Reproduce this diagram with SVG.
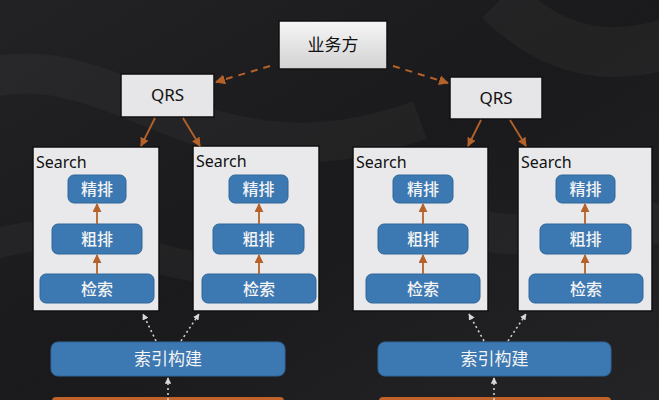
<svg xmlns="http://www.w3.org/2000/svg" width="659" height="400" viewBox="0 0 659 400">
<defs>
<linearGradient id="bg" x1="0" y1="0" x2="1" y2="1">
<stop offset="0" stop-color="#222224"/>
<stop offset="0.5" stop-color="#1a1a1c"/>
<stop offset="1" stop-color="#242426"/>
</linearGradient>
<linearGradient id="gw" x1="0" y1="0" x2="0" y2="1">
<stop offset="0" stop-color="#f6f6f6"/>
<stop offset="1" stop-color="#d2d2d2"/>
</linearGradient>
<marker id="ao" viewBox="0 0 10 10" refX="9" refY="5" markerWidth="5" markerHeight="5" orient="auto">
<path d="M0,0 L10,5 L0,10 z" fill="#b5622a"/>
</marker>
<marker id="aw" viewBox="0 0 10 10" refX="9" refY="5" markerWidth="4" markerHeight="4" orient="auto">
<path d="M0,0 L10,5 L0,10 z" fill="#d8d8d8"/>
</marker>
<style>
.lt{fill:#e6e6e8;stroke:#111;stroke-width:1.5}
.sb{fill:#e9e9eb;stroke:#111;stroke-width:1.5}
.bl{fill:#3c78b1;stroke:#2f6699;stroke-width:1}
.og{fill:#c0622a}
.tk{font-family:"Noto Sans","Noto Sans CJK SC",sans-serif;font-size:17px;fill:#111;text-anchor:middle}
.ts{font-family:"Noto Sans","Noto Sans CJK SC",sans-serif;font-size:16px;fill:#111}
.tw{font-family:"Noto Sans CJK SC",sans-serif;font-size:16px;font-weight:500;fill:#f4f4f4;text-anchor:middle}
.ti{font-family:"Noto Sans CJK SC",sans-serif;font-size:17px;fill:#f4f4f4;text-anchor:middle}
.cd{fill:none;stroke:#b5622a;stroke-width:2;stroke-dasharray:7,6;marker-end:url(#ao)}
.cs{fill:none;stroke:#b5622a;stroke-width:1.8;marker-end:url(#ao)}
.cw{fill:none;stroke:#d0d0d0;stroke-width:1.6;stroke-dasharray:2,3;marker-end:url(#aw)}
</style>
</defs>
<rect width="659" height="400" fill="url(#bg)"/>
<g opacity="0.03" fill="none" stroke="#fff">
<path d="M-20,80 C120,40 200,200 420,120" stroke-width="40"/>
<path d="M-20,250 C100,200 160,300 300,260" stroke-width="30"/>
<path d="M500,0 C560,60 620,60 680,40" stroke-width="50"/>
<path d="M450,220 C540,260 600,200 680,230" stroke-width="40"/>
</g>

<g id="business"><rect x="279" y="21" width="108" height="48" fill="url(#gw)" stroke="#111" stroke-width="1.5"/><text class="tk" x="333" y="51">业务方</text></g>
<g id="qrs-left"><rect class="lt" x="121" y="74" width="93" height="43"/><text class="tk" x="167.5" y="101">QRS</text></g>
<g id="qrs-right"><rect class="lt" x="450" y="77" width="92" height="42"/><text class="tk" x="496" y="104">QRS</text></g>

<g id="search-1">
<rect class="sb" x="33" y="147" width="126" height="164"/>
<text class="ts" x="36" y="168">Search</text>
<rect class="bl" x="68" y="175" width="58" height="28" rx="6"/><text class="tw" x="97" y="195">精排</text>
<rect class="bl" x="52" y="224" width="90" height="30" rx="6"/><text class="tw" x="97" y="245">粗排</text>
<rect class="bl" x="40" y="274" width="114" height="29" rx="6"/><text class="tw" x="97" y="294.5">检索</text>
</g>
<g id="search-2">
<rect class="sb" x="193" y="146" width="126" height="165"/>
<text class="ts" x="196" y="167">Search</text>
<rect class="bl" x="229" y="175" width="59" height="28" rx="6"/><text class="tw" x="258.5" y="195">精排</text>
<rect class="bl" x="213" y="224" width="91" height="30" rx="6"/><text class="tw" x="258.5" y="245">粗排</text>
<rect class="bl" x="202" y="274" width="114" height="29" rx="6"/><text class="tw" x="259" y="294.5">检索</text>
</g>
<g id="search-3">
<rect class="sb" x="353" y="147" width="135" height="164"/>
<text class="ts" x="356" y="168">Search</text>
<rect class="bl" x="393" y="175" width="60" height="28" rx="6"/><text class="tw" x="423" y="195">精排</text>
<rect class="bl" x="378" y="224" width="90" height="30" rx="6"/><text class="tw" x="423" y="245">粗排</text>
<rect class="bl" x="366" y="274" width="114" height="29" rx="6"/><text class="tw" x="423" y="294.5">检索</text>
</g>
<g id="search-4">
<rect class="sb" x="518" y="147" width="134" height="164"/>
<text class="ts" x="521" y="168">Search</text>
<rect class="bl" x="556" y="175" width="59" height="28" rx="6"/><text class="tw" x="585.5" y="195">精排</text>
<rect class="bl" x="540" y="224" width="91" height="30" rx="6"/><text class="tw" x="585.5" y="245">粗排</text>
<rect class="bl" x="529" y="274" width="114" height="29" rx="6"/><text class="tw" x="586" y="294.5">检索</text>
</g>

<g id="index-left"><rect class="bl" x="51" y="342" width="234" height="34" rx="7"/><text class="ti" x="168" y="365">索引构建</text></g>
<g id="index-right"><rect class="bl" x="378" y="342" width="233" height="34" rx="7"/><text class="ti" x="494.5" y="365">索引构建</text></g>
<g id="source-left"><rect class="og" x="52" y="397" width="232" height="10" rx="4"/></g>
<g id="source-right"><rect class="og" x="379" y="397" width="232" height="10" rx="4"/></g>

<g id="connectors">
<path class="cd" d="M270,66 L216,82"/>
<path class="cd" d="M393,66 L448,83"/>
<path class="cs" d="M155,118 L141,146"/>
<path class="cs" d="M183,118 L200,146"/>
<path class="cs" d="M481,120 L468,146"/>
<path class="cs" d="M510,120 L526,146"/>
<path class="cs" d="M97,224 L97,204"/>
<path class="cs" d="M97,274 L97,255"/>
<path class="cs" d="M259,224 L259,204"/>
<path class="cs" d="M259,274 L259,255"/>
<path class="cs" d="M423,224 L423,204"/>
<path class="cs" d="M423,274 L423,255"/>
<path class="cs" d="M585,224 L585,204"/>
<path class="cs" d="M585,274 L585,255"/>
<path class="cw" d="M156,341 L143,314"/>
<path class="cw" d="M181,341 L199,314"/>
<path class="cw" d="M484,341 L469,314"/>
<path class="cw" d="M508,341 L526,314"/>
<path class="cw" d="M168,400 L168,378"/>
<path class="cw" d="M494,400 L494,378"/>
</g>
</svg>
